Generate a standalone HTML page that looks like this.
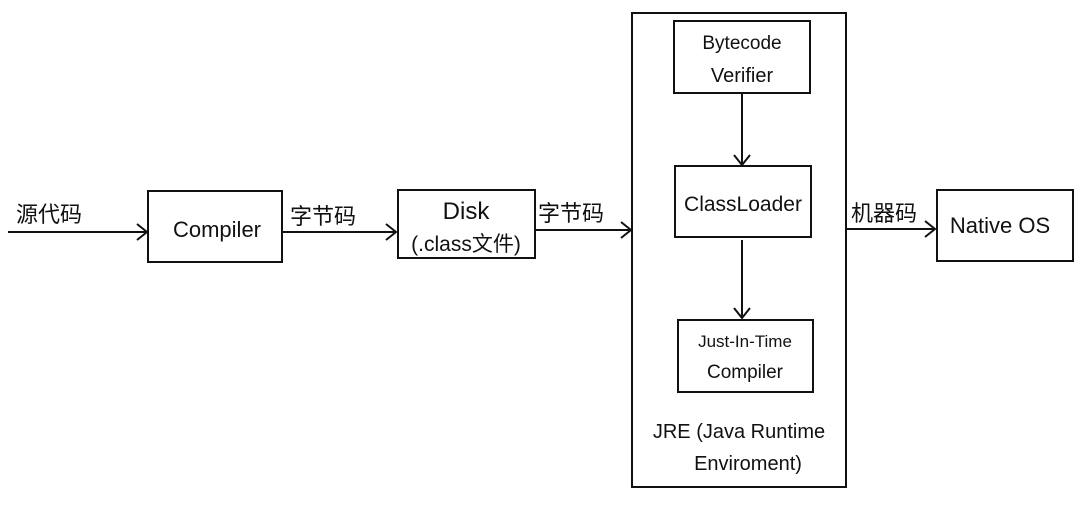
<!DOCTYPE html>
<html><head><meta charset="utf-8"><style>body{margin:0;background:#fff}</style></head><body>
<svg width="1080" height="500" xmlns="http://www.w3.org/2000/svg" font-family="Liberation Sans, Noto Sans CJK SC, sans-serif" fill="none" stroke="#111" stroke-width="2">
<rect x="0" y="0" width="1080" height="500" fill="#fff" stroke="none"/>
<rect x="148" y="191" width="134" height="71"/>
<rect x="398" y="190" width="137" height="68"/>
<rect x="632" y="13" width="214" height="474"/>
<rect x="674" y="21" width="136" height="72"/>
<rect x="675" y="166" width="136" height="71"/>
<rect x="678" y="320" width="135" height="72"/>
<rect x="937" y="190" width="136" height="71"/>
<path d="M8 232H147M137 224l10 8-10 8"/>
<path d="M282 232H396M386 224l10 8-10 8"/>
<path d="M535 230H631M621 222l10 8-10 8"/>
<path d="M846 229H935M925 221l10 8-10 8"/>
<path d="M742 93V165M734 155l8 10 8-10"/>
<path d="M742 240V318M734 308l8 10 8-10"/>
<g fill="#111" stroke="none" font-size="22">
<text x="16" y="222">源代码</text>
<text x="217" y="237" text-anchor="middle">Compiler</text>
<text x="290" y="224">字节码</text>
<text x="466" y="219" text-anchor="middle" font-size="24">Disk</text>
<text x="466" y="251" text-anchor="middle" font-size="21">(.class文件)</text>
<text x="538" y="221">字节码</text>
<text x="742" y="49" text-anchor="middle" font-size="19">Bytecode</text>
<text x="742" y="82" text-anchor="middle" font-size="20">Verifier</text>
<text x="743" y="211" text-anchor="middle" font-size="21">ClassLoader</text>
<text x="745" y="347" text-anchor="middle" font-size="17">Just-In-Time</text>
<text x="745" y="378" text-anchor="middle" font-size="19">Compiler</text>
<text x="739" y="438" text-anchor="middle" font-size="20">JRE (Java Runtime</text>
<text x="748" y="470" text-anchor="middle" font-size="20">Enviroment)</text>
<text x="851" y="221">机器码</text>
<text x="1000" y="233" text-anchor="middle">Native OS</text>
</g>
</svg>
</body></html>
